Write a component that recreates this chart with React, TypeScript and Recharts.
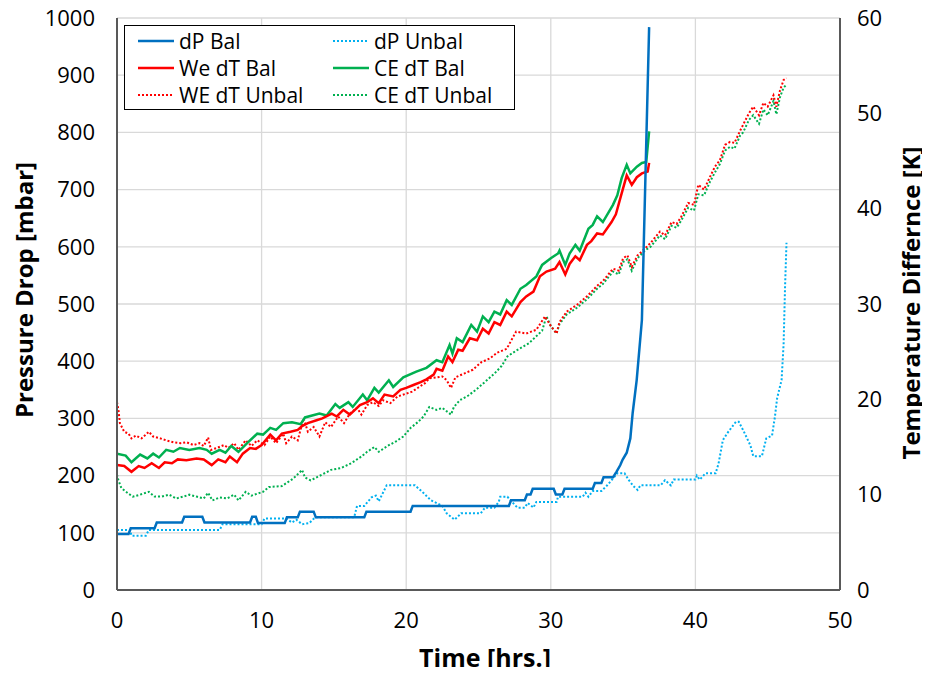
import React from 'react';
import { LineChart, Line, XAxis, YAxis, CartesianGrid } from 'recharts';

// time axis [hrs.]
const timeTicks = [0, 10, 20, 30, 40, 50];
const pressureTicks = [0, 100, 200, 300, 400, 500, 600, 700, 800, 900, 1000];
const tempTicks = [0, 10, 20, 30, 40, 50, 60];

// dP Bal [mbar]
const dpBalT = [0, 0.8, 0.95, 2.6, 2.75, 4.5, 4.65, 5.9, 6.05, 9.2, 9.35, 9.6, 9.75, 11.6, 11.75, 12.5, 12.65, 13.6, 13.75, 17.1, 17.25, 20.3, 20.45, 27.1, 27.25, 28.2, 28.35, 28.6, 28.75, 30.2, 30.35, 30.8, 30.95, 32.9, 33.05, 33.5, 33.65, 34.3, 34.55, 34.8, 34.97, 35.25, 35.5, 35.66, 35.94, 36.3, 36.55, 36.8];
const dpBalP = [98, 98, 108, 108, 118, 118, 128, 128, 118, 118, 128, 128, 117, 117, 127, 127, 137, 137, 127, 127, 137, 137, 147, 147, 157, 157, 167, 167, 177, 177, 167, 167, 177, 177, 187, 187, 197, 197, 207, 218, 228, 240, 265, 309, 367, 472, 728, 984];

// dP Unbal [mbar]
const dpUnbalT = [0, 0.9, 1.0, 2.0, 2.2, 7.1, 7.3, 10.0, 10.2, 11.7, 12.1, 12.4, 12.8, 13.3, 13.7, 16.4, 16.6, 17.1, 17.6, 17.9, 18.1, 18.65, 20.6, 21.1, 21.7, 22.5, 22.8, 23.35, 23.8, 25.15, 25.45, 26.1, 26.4, 26.5, 27.0, 27.5, 27.7, 28.2, 28.4, 28.8, 29.0, 30.4, 30.5, 32.2, 32.4, 32.6, 32.9, 33.5, 33.9, 34.4, 34.6, 35.1, 35.4, 35.7, 36.0, 36.2, 37.6, 37.9, 38.3, 38.5, 40.0, 40.1, 40.3, 40.7, 41.4, 41.6, 41.9, 42.2, 42.8, 43.0, 43.35, 43.8, 44.0, 44.6, 44.9, 45.3, 45.5, 45.65, 45.96, 46.1, 46.2, 46.3];
const dpUnbalP = [105, 105, 95, 95, 105, 105, 115, 115, 125, 125, 118, 123, 115, 117, 127, 127, 147, 147, 162, 165, 155, 183, 183, 172, 157, 147, 134, 123, 134, 134, 144, 144, 154, 163, 163, 149, 144, 144, 152, 144, 154, 154, 163, 163, 170, 163, 173, 173, 183, 198, 204, 204, 192, 182, 175, 183, 183, 192, 183, 193, 193, 200, 193, 204, 204, 221, 262, 274, 294, 294, 277, 253, 234, 234, 265, 270, 303, 335, 367, 430, 530, 607];

// We dT Bal [K]
const weBalT = [0, 0.5, 1.0, 1.5, 1.9, 2.4, 2.9, 3.3, 3.8, 4.2, 4.8, 5.5, 6.0, 6.55, 7.0, 7.5, 7.8, 8.3, 8.7, 9.2, 9.6, 10.0, 10.6, 11.0, 11.4, 12.0, 12.5, 12.8, 13.2, 13.8, 14.2, 14.85, 15.2, 15.65, 16.1, 16.6, 16.8, 17.3, 17.7, 18.1, 18.5, 19.1, 19.6, 20.0, 20.5, 21.0, 21.4, 21.9, 22.1, 22.5, 22.9, 23.2, 23.6, 23.9, 24.4, 24.9, 25.3, 25.7, 26.1, 26.5, 26.95, 27.3, 27.9, 28.3, 28.8, 29.25, 29.7, 30.3, 30.6, 31.0, 31.3, 31.7, 32.0, 32.5, 32.8, 33.2, 33.6, 34.2, 34.5, 34.9, 35.25, 35.6, 35.95, 36.3, 36.7, 36.8];
const weBalK = [13.1, 13.0, 12.4, 13.0, 12.8, 13.3, 12.8, 13.4, 13.3, 13.7, 13.6, 13.8, 13.7, 13.1, 13.7, 13.4, 14.0, 13.4, 14.3, 14.9, 14.8, 15.2, 16.3, 15.7, 16.4, 16.6, 16.8, 17.2, 17.5, 17.8, 18.0, 18.5, 18.2, 18.9, 18.4, 19.1, 19.4, 19.7, 20.1, 19.6, 20.5, 20.3, 21.0, 21.2, 21.5, 21.8, 22.1, 22.6, 23.2, 23.0, 24.5, 23.9, 25.2, 25.1, 26.4, 26.2, 27.4, 26.9, 28.1, 27.8, 29.2, 28.7, 30.2, 30.8, 31.3, 32.9, 33.4, 33.7, 34.4, 33.1, 34.2, 35.0, 34.6, 36.2, 36.6, 37.4, 37.3, 38.6, 39.4, 41.6, 43.5, 42.5, 43.3, 43.7, 43.9, 44.8];

// CE dT Bal [K]
const ceBalT = [0, 0.6, 1.0, 1.6, 2.1, 2.5, 2.9, 3.4, 3.9, 4.35, 5.0, 5.7, 6.2, 6.55, 7.1, 7.5, 7.9, 8.4, 9.0, 9.7, 10.1, 10.6, 11.0, 11.5, 12.1, 12.7, 13.0, 14.0, 14.5, 15.1, 15.4, 16.0, 16.3, 17.0, 17.3, 17.8, 18.1, 18.8, 19.1, 19.8, 20.7, 21.4, 22.1, 22.5, 23.0, 23.2, 23.5, 23.9, 24.5, 24.9, 25.3, 25.7, 26.1, 26.5, 26.95, 27.3, 27.9, 28.3, 29.0, 29.4, 30.0, 30.5, 30.6, 31.0, 31.3, 31.7, 32.0, 32.6, 32.9, 33.2, 33.6, 34.3, 34.6, 34.9, 35.25, 35.5, 35.95, 36.3, 36.6, 36.8];
const ceBalK = [14.3, 14.1, 13.4, 14.2, 13.8, 14.3, 13.9, 14.7, 14.5, 14.9, 14.7, 14.9, 14.7, 14.3, 14.7, 14.4, 15.1, 14.5, 15.4, 16.4, 16.3, 17.0, 16.8, 17.5, 17.6, 17.4, 18.1, 18.5, 18.3, 19.5, 19.1, 19.7, 19.2, 20.5, 19.9, 21.2, 20.7, 22.0, 21.3, 22.3, 22.9, 23.3, 24.1, 23.9, 25.7, 24.8, 26.4, 26.0, 27.8, 27.1, 28.7, 28.1, 29.2, 28.9, 30.4, 29.9, 31.6, 32.0, 32.9, 34.1, 34.8, 35.3, 35.6, 34.1, 35.3, 36.2, 35.6, 37.9, 38.3, 39.2, 38.6, 40.4, 41.4, 43.2, 44.6, 43.7, 44.4, 44.8, 44.9, 48.1];

// WE dT Unbal [K]
const weUnbalT = [0, 0.1, 0.2, 0.5, 0.8, 1.0, 1.3, 1.7, 2.2, 2.5, 3.0, 3.4, 3.9, 4.4, 4.8, 5.3, 5.7, 6.0, 6.3, 6.5, 6.9, 7.4, 7.7, 8.1, 8.4, 8.9, 9.3, 9.7, 10.2, 10.6, 11.0, 11.5, 11.7, 12.1, 12.5, 12.9, 13.2, 13.6, 14.0, 14.4, 14.8, 15.3, 15.7, 16.1, 16.6, 16.9, 17.3, 17.7, 18.1, 18.4, 18.9, 19.4, 20.0, 20.4, 20.9, 21.3, 21.6, 22.1, 22.5, 22.8, 23.1, 23.4, 24.0, 24.6, 25.2, 25.8, 26.3, 26.95, 27.6, 28.3, 29.0, 29.6, 30.0, 30.4, 30.6, 31.1, 31.8, 32.5, 33.2, 33.6, 34.3, 34.7, 35.0, 35.3, 35.6, 36.0, 36.5, 36.9, 37.55, 37.9, 38.35, 38.7, 39.0, 39.5, 39.9, 40.2, 40.6, 41.0, 41.35, 41.7, 42.05, 42.4, 42.7, 43.1, 43.3, 43.7, 44.0, 44.4, 44.7, 45.0, 45.4, 45.6, 45.85, 46.1, 46.3];
const weUnbalK = [19.7, 18.9, 17.5, 16.6, 16.4, 15.9, 16.2, 15.9, 16.6, 16.1, 15.9, 15.7, 15.5, 15.4, 15.5, 15.2, 15.4, 15.1, 16.0, 14.7, 14.9, 15.2, 14.9, 15.4, 14.7, 15.7, 15.1, 15.7, 15.2, 16.1, 15.4, 16.4, 15.4, 16.1, 15.7, 18.0, 16.6, 17.1, 16.1, 17.6, 17.1, 18.2, 17.5, 18.5, 19.1, 18.4, 19.4, 19.7, 19.3, 19.9, 19.6, 20.3, 20.6, 20.8, 21.3, 21.7, 22.2, 22.3, 22.4, 22.0, 21.2, 22.3, 22.7, 23.1, 23.9, 24.3, 24.9, 25.3, 27.1, 26.9, 27.3, 28.7, 27.7, 26.9, 28.1, 29.2, 29.9, 30.8, 31.9, 32.4, 33.7, 33.5, 34.8, 35.1, 33.9, 35.1, 35.8, 36.4, 37.6, 37.2, 38.6, 38.4, 39.1, 40.6, 40.4, 42.5, 42.0, 43.3, 44.4, 45.1, 46.7, 47.0, 46.9, 48.2, 48.8, 50.0, 50.7, 49.8, 51.1, 50.7, 51.9, 50.7, 52.4, 53.5, 53.7];

// CE dT Unbal [K]
const ceUnbalT = [0, 0.1, 0.3, 0.8, 1.1, 1.6, 2.2, 2.6, 3.1, 3.6, 4.1, 4.6, 5.0, 5.5, 6.0, 6.3, 6.6, 7.1, 7.6, 8.1, 8.4, 8.9, 9.3, 9.7, 10.1, 10.5, 11.4, 12.2, 12.8, 13.0, 13.4, 14.3, 14.8, 15.5, 16.2, 16.9, 17.3, 17.8, 18.1, 18.7, 19.3, 19.8, 20.3, 20.8, 21.2, 21.6, 22.1, 22.5, 23.1, 23.3, 23.7, 24.3, 24.9, 25.5, 26.1, 26.6, 27.0, 27.7, 28.5, 29.4, 29.7, 30.0, 30.4, 30.6, 31.1, 31.8, 32.5, 33.2, 33.6, 34.3, 34.7, 35.0, 35.3, 35.6, 36.0, 36.5, 36.9, 37.55, 37.9, 38.35, 38.7, 39.0, 39.5, 39.9, 40.2, 40.6, 41.0, 41.35, 41.7, 42.05, 42.4, 42.7, 43.1, 43.3, 43.7, 44.0, 44.4, 44.7, 45.0, 45.4, 45.6, 45.85, 46.1, 46.3];
const ceUnbalK = [12.1, 11.5, 10.7, 10.1, 9.8, 10.0, 10.3, 9.8, 9.8, 10.0, 9.6, 9.8, 10.0, 9.8, 9.6, 10.2, 9.4, 9.7, 9.6, 10.0, 9.4, 10.3, 9.9, 10.1, 10.3, 10.8, 10.9, 11.7, 12.6, 11.8, 11.5, 12.2, 12.6, 12.8, 13.3, 14.0, 14.5, 15.0, 14.5, 15.1, 15.6, 16.1, 17.0, 17.6, 18.2, 19.2, 18.9, 19.1, 18.4, 19.2, 19.9, 20.4, 21.1, 21.9, 22.7, 23.5, 24.5, 25.2, 25.9, 27.2, 28.7, 27.7, 26.9, 27.9, 28.9, 29.6, 30.5, 31.6, 32.1, 33.4, 33.1, 34.4, 34.7, 33.5, 34.8, 35.6, 36.0, 37.2, 36.8, 38.2, 38.0, 38.7, 40.1, 39.8, 41.5, 41.4, 42.8, 43.8, 44.7, 46.1, 46.5, 46.3, 47.7, 48.0, 49.3, 49.8, 48.9, 50.4, 49.8, 51.3, 49.9, 51.7, 52.7, 53.0];

const zip = (t: number[], v: number[]) => t.map((x, i) => ({ t: x, v: v[i] }));

const dpBal = zip(dpBalT, dpBalP);
const dpUnbal = zip(dpUnbalT, dpUnbalP);
const weBal = zip(weBalT, weBalK);
const ceBal = zip(ceBalT, ceBalK);
const weUnbal = zip(weUnbalT, weUnbalK);
const ceUnbal = zip(ceUnbalT, ceUnbalK);

const BLUE = '#0070C0';
const CYAN = '#00B0F0';
const RED = '#FF0000';
const GREEN = '#00B050';
const DOT = '2 2';
const FONT = '"Open Sans", sans-serif';

const legendItems = [
  { name: 'dP Bal', color: BLUE, dash: undefined },
  { name: 'dP Unbal', color: CYAN, dash: DOT },
  { name: 'We dT Bal', color: RED, dash: undefined },
  { name: 'CE dT Bal', color: GREEN, dash: undefined },
  { name: 'WE dT Unbal', color: RED, dash: DOT },
  { name: 'CE dT Unbal', color: GREEN, dash: DOT },
];

function ChartLegend() {
  return (
    <div
      style={{
        position: 'absolute', left: 124, top: 25, width: 389, height: 82,
        border: '1.5px solid #000', background: '#fff',
        display: 'grid', gridTemplateColumns: '195px 194px', gridAutoRows: '27px',
        fontFamily: FONT, fontSize: 21, color: '#000', paddingTop: 1,
      }}
    >
      {legendItems.map((it) => (
        <div key={it.name} style={{ display: 'flex', alignItems: 'center', paddingLeft: 13 }}>
          <svg width={36} height={6} style={{ marginRight: 5 }}>
            <line x1={0} y1={3} x2={36} y2={3} stroke={it.color} strokeWidth={it.dash ? 2 : 2.5} strokeDasharray={it.dash} />
          </svg>
          <span style={{ whiteSpace: 'nowrap' }}>{it.name}</span>
        </div>
      ))}
    </div>
  );
}

const tick = { fill: '#000', fontSize: 22, fontFamily: FONT };
const titleStyle: React.CSSProperties = {
  position: 'absolute', fontFamily: FONT, fontWeight: 700, fontSize: 24, lineHeight: 1,
  color: '#000', whiteSpace: 'nowrap', transform: 'translate(-50%, -50%)',
};

export default function App() {
  return (
    <div style={{ position: 'relative', width: 930, height: 675, margin: -8, background: '#fff' }}>
      <LineChart width={930} height={675} margin={{ top: 18, right: 10, left: 10, bottom: 35 }}>
        <CartesianGrid yAxisId="left" stroke="#D9D9D9" strokeWidth={1.3} />
        <XAxis
          type="number" dataKey="t" domain={[0, 50]} ticks={timeTicks} allowDataOverflow
          height={50} tickLine={false} tickMargin={16} axisLine={{ stroke: '#595959', strokeWidth: 2 }} tick={tick}
        />
        <YAxis
          yAxisId="left" domain={[0, 1000]} ticks={pressureTicks} width={107}
          tickLine={false} tickMargin={16} axisLine={{ stroke: '#595959', strokeWidth: 2 }} tick={tick}
        />
        <YAxis
          yAxisId="right" orientation="right" domain={[0, 60]} ticks={tempTicks} width={80}
          tickLine={false} tickMargin={11} axisLine={{ stroke: '#595959', strokeWidth: 2 }} tick={tick}
        />
        <Line yAxisId="right" data={ceUnbal} dataKey="v" stroke={GREEN} strokeWidth={2} strokeDasharray={DOT} dot={false} isAnimationActive={false} />
        <Line yAxisId="right" data={weUnbal} dataKey="v" stroke={RED} strokeWidth={2} strokeDasharray={DOT} dot={false} isAnimationActive={false} />
        <Line yAxisId="right" data={ceBal} dataKey="v" stroke={GREEN} strokeWidth={2.5} dot={false} isAnimationActive={false} />
        <Line yAxisId="right" data={weBal} dataKey="v" stroke={RED} strokeWidth={2.5} dot={false} isAnimationActive={false} />
        <Line yAxisId="left" data={dpUnbal} dataKey="v" stroke={CYAN} strokeWidth={2} strokeDasharray={DOT} dot={false} isAnimationActive={false} />
        <Line yAxisId="left" data={dpBal} dataKey="v" stroke={BLUE} strokeWidth={2.5} dot={false} isAnimationActive={false} />
      </LineChart>
      <ChartLegend />
      <div style={{ ...titleStyle, left: 24, top: 290, transform: 'translate(-50%, -50%) rotate(-90deg)' }}>Pressure Drop [mbar]</div>
      <div style={{ ...titleStyle, left: 911, top: 303, transform: 'translate(-50%, -50%) rotate(-90deg)' }}>Temperature Differnce [K]</div>
      <div style={{ ...titleStyle, left: 485, top: 657, fontSize: 25 }}>Time [hrs.]</div>
    </div>
  );
}
